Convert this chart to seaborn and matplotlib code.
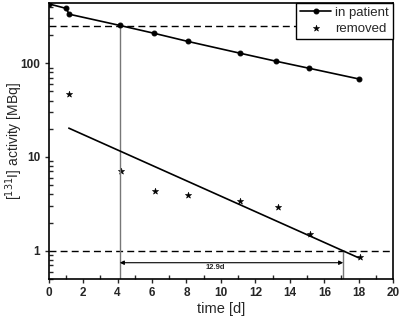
import numpy as np
import pandas as pd
import matplotlib.pyplot as plt
from matplotlib.ticker import MultipleLocator, LogLocator, FixedLocator, NullFormatter
import seaborn as sns

# --- data ---
patient_t = [0.0, 1.0, 1.2, 4.13, 6.1, 8.07, 11.1, 13.2, 15.1, 18.0]
patient_a = [430, 385, 333, 253, 209, 171, 128, 105, 88.5, 68]

removed_t = [1.17, 4.19, 6.2, 8.1, 11.1, 13.3, 15.2, 18.1]
removed_a = [47, 7.1, 4.35, 3.95, 3.4, 2.94, 1.51, 0.86]

fit_t = [1.17, 18.0]
fit_a = [20.3, 0.84]

level_high = 250
level_low = 1
t_start = 4.13
t_end = 17.1
span_label = '12.9d'

sns.set_style('ticks')
plt.rcParams['font.family'] = ['Liberation Sans', 'DejaVu Sans']

fig, ax = plt.subplots(figsize=(4.02, 3.21), dpi=100)
fig.subplots_adjust(left=0.121, right=0.978, top=0.991, bottom=0.131)

df_p = pd.DataFrame({'t': patient_t, 'a': patient_a})
df_r = pd.DataFrame({'t': removed_t, 'a': removed_a})
df_f = pd.DataFrame({'t': fit_t, 'a': fit_a})

sns.lineplot(data=df_p, x='t', y='a', ax=ax, color='black', lw=1.2,
             marker='o', markersize=3.5, markeredgecolor='black',
             label='in patient', sort=False)
sns.scatterplot(data=df_r, x='t', y='a', ax=ax, color='black', marker='*',
                s=22, edgecolor='black', linewidth=0.4, label='removed')
sns.lineplot(data=df_f, x='t', y='a', ax=ax, color='black', lw=1.2, legend=False)

ax.set_yscale('log')
ax.set_xlim(0, 20)
ax.set_ylim(0.5, 440)

ax.axhline(level_high, color='black', ls=(0, (5, 3)), lw=1.0, zorder=1)
ax.axhline(level_low, color='black', ls=(0, (5, 3)), lw=1.0, zorder=1)
ax.plot([t_start, t_start], [0.5, level_high], color='#777777', lw=1.0, zorder=1)
ax.plot([t_end, t_end], [0.5, level_low], color='#777777', lw=1.0, zorder=1)
ax.annotate('', xy=(t_start, 0.745), xytext=(t_end, 0.745),
            arrowprops=dict(arrowstyle='<|-|>', color='black', lw=0.8,
                            mutation_scale=6, shrinkA=0, shrinkB=0))
ax.text(9.7, 0.655, span_label, fontsize=5.5, fontweight='bold',
        ha='center', va='center')

ax.xaxis.set_major_locator(MultipleLocator(2))
ax.xaxis.set_minor_locator(MultipleLocator(1))
ax.yaxis.set_major_locator(FixedLocator([1, 10, 100]))
ax.yaxis.set_minor_locator(LogLocator(base=10, subs=np.arange(2, 10)))
ax.yaxis.set_minor_formatter(NullFormatter())
ax.set_yticklabels(['1', '10', '100'])

# major ticks outward, minor ticks inward (as in the reference)
ax.tick_params(which='major', direction='out', length=3, width=1.0,
               labelsize=8.5, pad=3)
ax.tick_params(which='minor', direction='in', length=3, width=1.0)
for lab in ax.get_xticklabels() + ax.get_yticklabels():
    lab.set_fontweight('bold')
for s in ax.spines.values():
    s.set_linewidth(1.2)
    s.set_color('black')

ax.set_xlabel('time [d]', fontsize=10.5, labelpad=2)
ax.set_ylabel('[$^{131}$I] activity [MBq]', fontsize=10)
ax.yaxis.set_label_coords(-0.07, 0.5)

leg = ax.legend(loc='upper right', borderaxespad=0, fontsize=9.5,
                handlelength=2.4, handletextpad=0.3, borderpad=0.3,
                labelspacing=0.25, fancybox=False, framealpha=1)
leg.get_frame().set_edgecolor('black')
leg.get_frame().set_linewidth(1.0)

fig.savefig('out.png', dpi=100)
